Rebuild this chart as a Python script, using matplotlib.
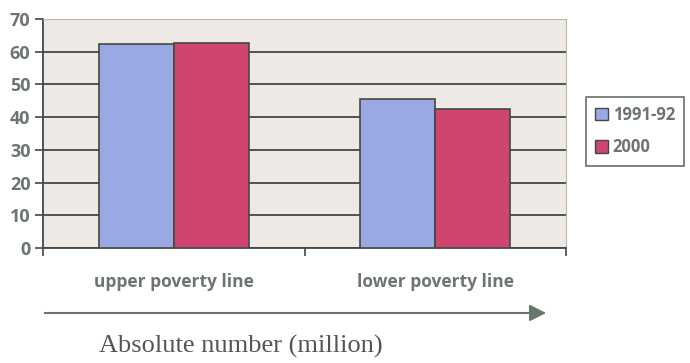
import matplotlib.pyplot as plt
import numpy as np
from matplotlib.patches import Patch, FancyArrowPatch

categories = ["upper poverty line", "lower poverty line"]
series_names = ["1991-92", "2000"]
values_1991 = [62.5, 45.5]
values_2000 = [62.8, 42.6]

blue = "#9ba9e3"
red = "#cf456f"
text_gray = "#6d7570"
line_dark = "#3f4a45"

fig = plt.figure(figsize=(6.9, 3.63), dpi=100)
ax = fig.add_axes([43 / 690, 1 - 248 / 363, 523 / 690, 229 / 363])
ax.set_facecolor("#efe9e6")

x = np.arange(len(categories))
w = 0.287
ax.bar(x - w / 2, values_1991, w, color=blue, edgecolor=line_dark, linewidth=1.2, zorder=3)
ax.bar(x + w / 2, values_2000, w, color=red, edgecolor=line_dark, linewidth=1.2, zorder=3)

ax.set_xlim(-0.5, 1.5)
ax.set_ylim(0, 70)
ax.set_yticks(range(0, 71, 10))
ax.yaxis.grid(True, color=line_dark, linewidth=1.3, zorder=1)
ax.set_axisbelow(True)

for s in ["top", "right"]:
    ax.spines[s].set_color("#b8b8a8")
    ax.spines[s].set_linewidth(0.8)
for s in ["left", "bottom"]:
    ax.spines[s].set_color(line_dark)
    ax.spines[s].set_linewidth(1.3)

# tick marks between categories, labels centred under groups
ax.set_xticks([-0.5, 0.5, 1.5])
ax.set_xticklabels([])
ax.tick_params(axis="x", length=6, width=1.2, color=line_dark)
ax.tick_params(axis="y", length=6, width=1.2, color=line_dark, labelsize=13,
               labelcolor=text_gray, pad=3)
for lbl in ax.get_yticklabels():
    lbl.set_fontfamily("Open Sans")
    lbl.set_fontweight("bold")

for i, c in enumerate(categories):
    ax.text(i, -10.3, c, ha="center", va="center", fontsize=12.5, color=text_gray,
            fontfamily="Open Sans", fontweight="bold")

# arrow under the chart
fig.add_artist(FancyArrowPatch(
    (42 / 690, 1 - 313 / 363), (549 / 690, 1 - 313 / 363),
    transform=fig.transFigure, arrowstyle="-|>,head_length=10,head_width=5",
    color="#66786c", linewidth=1.5, mutation_scale=1))

fig.text(241 / 690, 1 - 346 / 363, "Absolute number (million)", ha="center", va="center",
         fontsize=19, color="#555555", fontfamily="Liberation Serif")

handles = [Patch(facecolor=blue, edgecolor=line_dark), Patch(facecolor=red, edgecolor=line_dark)]
leg = fig.legend(handles, series_names, loc="upper left", bbox_to_anchor=(586 / 690, 1 - 97 / 363),
                 frameon=True, fancybox=False, handlelength=0.75, handleheight=0.75,
                 handletextpad=0.3, borderpad=0.55, labelspacing=0.85, borderaxespad=0,
                 prop={"family": "Open Sans", "weight": "bold", "size": 12})
leg.get_frame().set_edgecolor(line_dark)
leg.get_frame().set_linewidth(1.2)
for t in leg.get_texts():
    t.set_color(text_gray)

fig.savefig("out.png", dpi=100)
